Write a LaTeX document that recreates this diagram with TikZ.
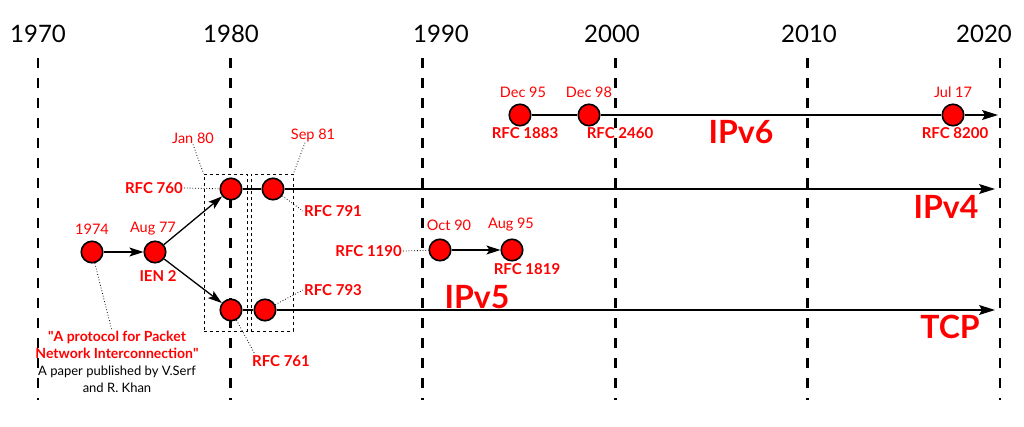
\documentclass[tikz,border=0pt]{standalone}
\usepackage{fontspec}
\setmainfont{Lato}
\newfontfamily\latoq{Lato}
\usetikzlibrary{arrows.meta}
\newcommand{\sq}{{\latoq"}}
\begin{document}
\begin{tikzpicture}[x=1pt,y=-1pt,
 dot/.style={circle,draw=black,fill=red,line width=1.6pt,minimum size=21.5pt,inner sep=0pt},
 yearline/.style={line width=2.8pt,dash pattern=on 10pt off 10pt},
 yr/.style={font=\fontsize{24}{24}\selectfont},
 date/.style={text=red,font=\fontsize{14.5}{16}\selectfont,inner sep=1pt},
 rfc/.style={text=red,font=\bfseries\fontsize{15}{16}\selectfont,inner sep=1pt},
 big/.style={text=red,font=\bfseries\fontsize{32}{32}\selectfont},
 tl/.style={line width=1.3pt,-{Stealth[length=16pt,width=10pt,inset=3pt]}},
 link/.style={line width=1.3pt},
 arr/.style={line width=1.3pt,-{Stealth[length=14pt,width=9pt,inset=3pt]}},
 lead/.style={dotted,line width=0.8pt},
 box/.style={draw,dashed,line width=0.9pt,inner sep=0pt}
]
\useasboundingbox (0,0) rectangle (1024,426);
% year lines
\foreach \i in {0,...,4}{
  \draw[yearline] ({38+192.4*\i},58) -- ({38+192.4*\i},400);
}
\draw[yearline] (1000,58) -- (1000,400);
\node[yr] (y1970) at (38,34) {1970};
\node[yr] (y1980) at (231,34) {1980};
\node[yr] (y1990) at (441,34) {1990};
\node[yr] (y2000) at (612,34) {2000};
\node[yr] (y2010) at (809,34) {2010};
\node[yr] (y2020) at (984,34) {2020};
% boxes
\node[box,minimum width=43pt,minimum height=157pt] (box1) at (225.5,252.5) {};
\node[box,minimum width=42pt,minimum height=157pt] (box2) at (272,252.5) {};
% dots
\node[dot] (n74) at (92,252) {};
\node[dot] (a77) at (155,252) {};
\node[dot] (r760) at (231,189) {};
\node[dot] (r791) at (273,189) {};
\node[dot] (r761) at (231,310) {};
\node[dot] (r793) at (265,310) {};
\node[dot] (o90) at (440,250) {};
\node[dot] (a95) at (512,250) {};
\node[dot] (d95) at (520,115) {};
\node[dot] (d98) at (589,115) {};
\node[dot] (j17) at (953,115) {};
\coordinate (e6) at (998,115);
\coordinate (e4) at (995,189);
\coordinate (etcp) at (995,310);
% lines
\draw[link] (d95) -- (d98);
\draw[link] (d98) -- (j17);
\draw[tl] (j17) -- (e6);
\draw[link] (r760) -- (r791);
\draw[tl] (r791) -- (e4);
\draw[link] (r761) -- (r793);
\draw[tl] (r793) -- (etcp);
\draw[arr] (n74) -- (a77);
\draw[arr] (a77) -- (r760);
\draw[arr] (a77) -- (r761);
\draw[arr] (o90) -- (a95);
% labels
\node[date] (l74) at (92,229) {1974};
\node[date] (la77) at (153,229) {Aug 77};
\node[rfc] (lien) at (158,276) {IEN 2};
\node[date] (ljan) at (193,138) {Jan 80};
\node[date] (lsep) at (313,135) {Sep 81};
\node[rfc,anchor=east] (l760) at (184,188) {RFC 760};
\node[rfc,anchor=west] (l791) at (303,211) {RFC 791};
\node[rfc,anchor=west] (l793) at (303,290) {RFC 793};
\node[rfc] (l761) at (281,361) {RFC 761};
\node[date] (lo90) at (449,225) {Oct 90};
\node[date] (la95) at (511,225) {Aug 95};
\node[rfc,anchor=east] (l1190) at (403,251) {RFC 1190};
\node[rfc] (l1819) at (527,269) {RFC 1819};
\node[date] (ld95) at (523,92) {Dec 95};
\node[date] (ld98) at (589,92) {Dec 98};
\node[date] (lj17) at (953,92) {Jul 17};
\node[rfc] (l1883) at (525,133) {RFC 1883};
\node[rfc] (l2460) at (620,133) {RFC 2460};
\node[rfc] (l8200) at (955,133) {RFC 8200};
\node[big] (tv6) at (741,132) {IPv6};
\node[big] (tv4) at (946,207) {IPv4};
\node[big] (ttcp) at (950,327) {TCP};
\node[big] (tv5) at (477,297) {IPv5};
\node[align=center,font=\fontsize{13}{17}\selectfont,anchor=north,inner sep=0pt] (paper) at (117,331)
 {{\color{red}\bfseries\fontsize{14}{17}\selectfont \sq A protocol for Packet}\\{\color{red}\bfseries\fontsize{14}{17}\selectfont Network Interconnection\sq}\\A paper published by V.Serf\\and R. Khan};
% leaders
\draw[lead] (l760.east) -- (r760);
\draw[lead] (r791) -- (l791.west);
\draw[lead] (r793) -- (l793.west);
\draw[lead] (r761) -- ([xshift=4pt]l761.north west);
\draw[lead] (l1190.east) -- (o90);
\draw[lead] (ljan.south) -- (box1.north west);
\draw[lead] ([xshift=-8pt]lsep.south) -- (box2.north east);
\draw[lead] (n74) -- ([xshift=-5pt]paper.north);
\end{tikzpicture}
\end{document}
